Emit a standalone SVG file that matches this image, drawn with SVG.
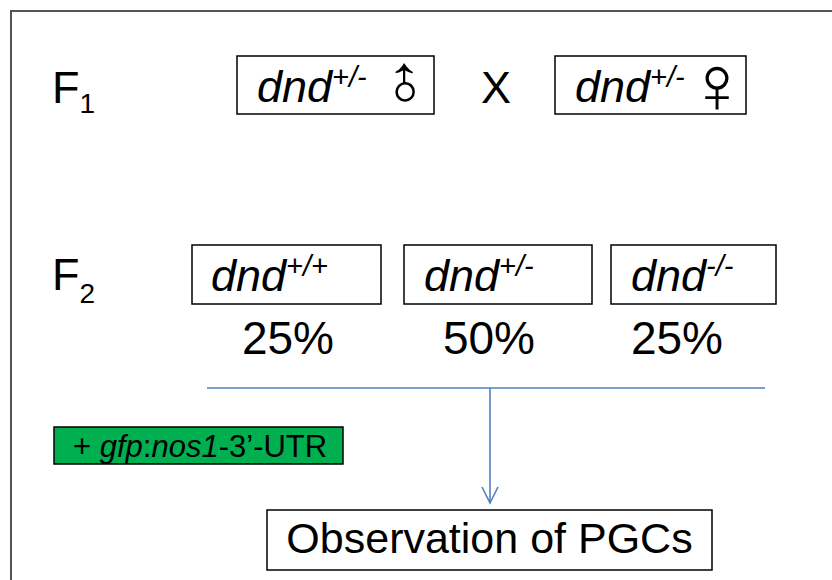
<svg xmlns="http://www.w3.org/2000/svg" width="832" height="580" viewBox="0 0 832 580">
  <style>
    .t { font-family: "Liberation Sans", Arial, sans-serif; fill: #000; }
    .big { font-size: 45px; }
    .pct { font-size: 46px; }
    .sub { font-size: 28px; }
    .sup { font-size: 29px; }
    .i { font-style: italic; }
    .box { fill: #fff; stroke: #000; stroke-width: 1.5; }
    .sym { font-family: "Liberation Sans", "DejaVu Sans", sans-serif; fill: #000; }
    .link { fill: none; stroke: #4f81bd; stroke-width: 1.6; }
  </style>
  <defs>
    <marker id="open-arrow" markerWidth="20" markerHeight="20" refX="17" refY="9" orient="auto" markerUnits="userSpaceOnUse" viewBox="0 0 20 18">
      <path d="M1,1 L17,9 L1,17" fill="none" stroke="#4f81bd" stroke-width="1.6"/>
    </marker>
  </defs>

  <rect width="832" height="580" fill="#fff"/>
  <!-- outer frame -->
  <path d="M11,590 L11,11 L840,11" fill="none" stroke="#555" stroke-width="2"/>

  <!-- generation labels -->
  <g id="label-f1">
    <text class="t big" x="52" y="103">F<tspan class="sub" dy="10">1</tspan></text>
  </g>
  <g id="label-f2">
    <text class="t big" x="52" y="290">F<tspan class="sub" dy="13">2</tspan></text>
  </g>

  <!-- F1 parents -->
  <g id="parent-male">
    <rect class="box" x="237" y="56" width="197" height="58"/>
    <text class="t big i" x="257" y="102">dnd<tspan class="sup" dy="-15">+/-</tspan></text>
    <text class="sym" font-size="70" transform="translate(406,86) rotate(-45)" text-anchor="middle" x="0" y="22">♂</text>
  </g>
  <g id="cross">
    <text class="t big" x="481" y="103">X</text>
  </g>
  <g id="parent-female">
    <rect class="box" x="555" y="56" width="191" height="58"/>
    <text class="t big i" x="575" y="102">dnd<tspan class="sup" dy="-15">+/-</tspan></text>
    <text class="sym" font-size="82" x="717" y="113" text-anchor="middle">♀</text>
  </g>

  <!-- F2 genotypes -->
  <g id="f2-wildtype">
    <rect class="box" x="192" y="245" width="189" height="59"/>
    <text class="t big i" x="211" y="291">dnd<tspan class="sup" dy="-15">+/+</tspan></text>
    <text class="t pct" x="288" y="354" text-anchor="middle">25%</text>
  </g>
  <g id="f2-heterozygous">
    <rect class="box" x="404" y="245" width="188" height="59"/>
    <text class="t big i" x="424" y="291">dnd<tspan class="sup" dy="-15">+/-</tspan></text>
    <text class="t pct" x="489" y="354" text-anchor="middle">50%</text>
  </g>
  <g id="f2-mutant">
    <rect class="box" x="611" y="245" width="165" height="59"/>
    <text class="t big i" x="631" y="291">dnd<tspan class="sup" dy="-15">-/-</tspan></text>
    <text class="t pct" x="677" y="354" text-anchor="middle">25%</text>
  </g>

  <!-- injection -->
  <g id="injection">
    <rect x="54" y="427" width="289" height="37" fill="#00b050" stroke="#000" stroke-width="1.5"/>
    <text class="t" x="73" y="457" font-size="31">+ <tspan class="i">gfp</tspan>:<tspan class="i">nos1</tspan>-3’-UTR</text>
  </g>

  <!-- connectors -->
  <g id="connectors">
    <line class="link" x1="207" y1="388" x2="765" y2="388"/>
    <line class="link" x1="490" y1="388" x2="490" y2="503" marker-end="url(#open-arrow)"/>
  </g>

  <g id="observation">
    <rect class="box" x="267" y="510" width="445" height="60"/>
    <text class="t" x="489.5" y="553" font-size="43" text-anchor="middle">Observation of PGCs</text>
  </g>
</svg>
